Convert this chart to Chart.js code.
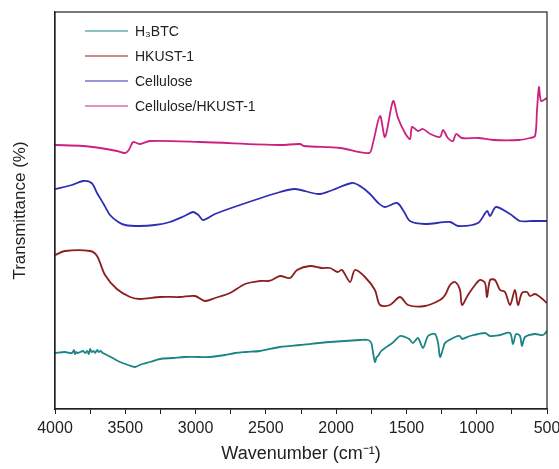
<!DOCTYPE html>
<html>
<head>
<meta charset="utf-8">
<script src="https://cdn.jsdelivr.net/npm/chart.js@4"></script>
<style>
  html, body { margin: 0; padding: 0; background: #fff; }
  #wrap { width: 559px; height: 469px; }
</style>
</head>
<body>
<div id="wrap"><canvas id="irChart" width="559" height="469"></canvas></div>
<script>
// Data (wavenumber in cm-1, transmittance in arbitrary offset units)
const seriesNames = ['H\u2083BTC', 'HKUST-1', 'Cellulose', 'Cellulose/HKUST-1'];
const seriesColors = ['#1b8585', '#8b1e1e', '#2e2eb3', '#cc2080'];

const btcWn = [4000, 3930, 3880, 3865, 3858, 3850, 3840, 3820, 3800, 3785, 3770, 3760, 3750, 3740, 3725, 3715, 3700, 3690, 3675, 3660, 3644, 3590, 3538, 3480, 3431, 3380, 3324, 3253, 3160, 3075, 2980, 2897, 2791, 2719, 2640, 2542, 2399, 2257, 2044, 1830, 1773, 1750, 1738, 1724, 1712, 1702, 1680, 1652, 1600, 1546, 1510, 1480, 1453, 1418, 1382, 1346, 1297, 1275, 1261, 1240, 1225, 1154, 1119, 1105, 1048, 941, 905, 834, 763, 742, 720, 692, 678, 656, 585, 528, 500];
const btcT  = [56, 57, 56, 59, 55, 57, 56, 57, 58, 56, 58, 55, 60, 57, 58, 56, 59, 57, 58, 56, 55, 51, 47, 44, 42, 45, 47, 50, 51, 52, 52, 52, 54, 56, 57, 58, 62, 64, 67, 69, 69, 66, 57, 47, 52, 53, 58, 61, 66, 73, 72, 70, 66, 71, 61, 73, 75, 66, 52, 60, 66, 72, 73, 70, 73, 76, 73, 74, 76, 65, 75, 73, 63, 72, 75, 74, 78];

const hkustWn = [4000, 3929, 3751, 3701, 3644, 3560, 3466, 3395, 3250, 3111, 3004, 2933, 2862, 2755, 2648, 2542, 2485, 2456, 2399, 2328, 2278, 2186, 2100, 2044, 1990, 1958, 1901, 1866, 1795, 1724, 1688, 1617, 1546, 1489, 1368, 1261, 1225, 1190, 1154, 1119, 1105, 1062, 1012, 977, 941, 927, 905, 870, 834, 799, 763, 728, 706, 678, 642, 621, 585, 550, 500];
const hkustT  = [154, 158, 158, 153, 134, 120, 112, 110, 112, 112, 113, 108, 111, 116, 125, 128, 128, 129, 133, 131, 139, 143, 141, 141, 137, 139, 127, 139, 132, 119, 104, 104, 112, 104, 103, 109, 114, 124, 127, 119, 104, 114, 124, 129, 126, 112, 129, 129, 119, 117, 104, 119, 104, 116, 117, 113, 115, 112, 106];

const celWn = [4000, 3880, 3801, 3740, 3701, 3650, 3609, 3550, 3502, 3400, 3289, 3182, 3080, 3018, 2980, 2947, 2862, 2684, 2399, 2293, 2129, 2044, 1887, 1820, 1759, 1700, 1652, 1567, 1520, 1475, 1368, 1190, 1133, 991, 927, 905, 863, 763, 692, 600, 500];
const celT  = [220, 224, 228, 226, 216, 204, 194, 187, 184, 183, 184, 187, 193, 197, 194, 189, 195, 204, 217, 220, 215, 218, 226, 222, 215, 206, 202, 206, 198, 188, 185, 187, 183, 186, 198, 193, 202, 195, 188, 188, 188];

const compWn = [4000, 3800, 3680, 3560, 3502, 3475, 3445, 3420, 3395, 3324, 2968, 2399, 2257, 2230, 1972, 1766, 1738, 1688, 1652, 1595, 1560, 1510, 1475, 1460, 1418, 1382, 1330, 1261, 1240, 1205, 1169, 1147, 1105, 990, 880, 700, 621, 585, 571, 557, 542, 500];
const compT  = [264, 263, 261, 258, 256, 259, 267, 266, 265, 268, 267, 264, 265, 263, 261, 256, 266, 293, 272, 308, 291, 276, 270, 282, 278, 280, 275, 272, 279, 271, 268, 275, 271, 271, 269, 269, 271, 273, 299, 322, 308, 311];

const xTicks = [4000, 3500, 3000, 2500, 2000, 1500, 1000, 500];

function toPoints(wn, t) {
    return wn.map((w, i) => ({ x: w, y: t[i] }));
}

const allWn = [btcWn, hkustWn, celWn, compWn];
const allT = [btcT, hkustT, celT, compT];

// Frame round the plot area + legend inside it
const framePlugin = {
    id: 'frame',
    afterDraw(chart) {
        const { ctx, chartArea } = chart;
        ctx.save();
        ctx.strokeStyle = '#222';
        ctx.lineWidth = 1.2;
        ctx.strokeRect(chartArea.left, chartArea.top, chartArea.right - chartArea.left, chartArea.bottom - chartArea.top);

        ctx.font = '14px "Liberation Sans", Arial, sans-serif';
        ctx.textBaseline = 'middle';
        chart.data.datasets.forEach((ds, i) => {
            const y = chartArea.top + 19 + i * 25;
            const x0 = chartArea.left + 30;
            ctx.strokeStyle = ds.borderColor;
            ctx.lineWidth = 1.2;
            ctx.beginPath();
            ctx.moveTo(x0, y);
            ctx.lineTo(x0 + 43, y);
            ctx.stroke();
            ctx.fillStyle = '#222';
            ctx.fillText(ds.label, x0 + 50, y + 1);
        });
        ctx.restore();
    }
};

const chart = new Chart(document.getElementById('irChart'), {
    type: 'line',
    data: {
        datasets: seriesNames.map((name, i) => ({
            label: name,
            data: toPoints(allWn[i], allT[i]),
            borderColor: seriesColors[i],
            borderWidth: 1.8,
            pointRadius: 0,
            tension: 0.3,
            fill: false
        }))
    },
    options: {
        responsive: false,
        animation: false,
        layout: { padding: { top: 12, right: 12, left: 0, bottom: 0 } },
        plugins: {
            legend: { display: false },
            tooltip: { enabled: false }
        },
        scales: {
            x: {
                type: 'linear',
                reverse: true,
                min: 500,
                max: 4000,
                afterBuildTicks(scale) {
                    const t = [];
                    for (let v = 500; v <= 4000; v += 250) t.push({ value: v });
                    scale.ticks = t;
                },
                afterFit(scale) { scale.height = 60; },
                ticks: {
                    color: '#222',
                    font: { family: '"Liberation Sans", Arial, sans-serif', size: 16 },
                    padding: 5,
                    maxRotation: 0,
                    autoSkip: false,
                    callback: (v) => xTicks.includes(v) ? String(v) : ''
                },
                grid: {
                    drawOnChartArea: false,
                    drawTicks: true,
                    tickLength: 5,
                    color: '#222'
                },
                border: { color: '#222', width: 1.2 },
                title: {
                    display: true,
                    text: 'Wavenumber (cm\u207B\u00B9)',
                    color: '#222',
                    font: { family: '"Liberation Sans", Arial, sans-serif', size: 18 },
                    padding: { top: 6 }
                }
            },
            y: {
                min: 0,
                max: 397,
                afterFit(scale) { scale.width = 55; },
                ticks: { display: false },
                grid: { display: false },
                border: { color: '#222', width: 1.2 },
                title: {
                    display: true,
                    text: 'Transmittance (%)',
                    color: '#222',
                    font: { family: '"Liberation Sans", Arial, sans-serif', size: 17 },
                    padding: { top: 10, bottom: 0 }
                }
            }
        }
    },
    plugins: [framePlugin]
});
</script>
</body>
</html>
